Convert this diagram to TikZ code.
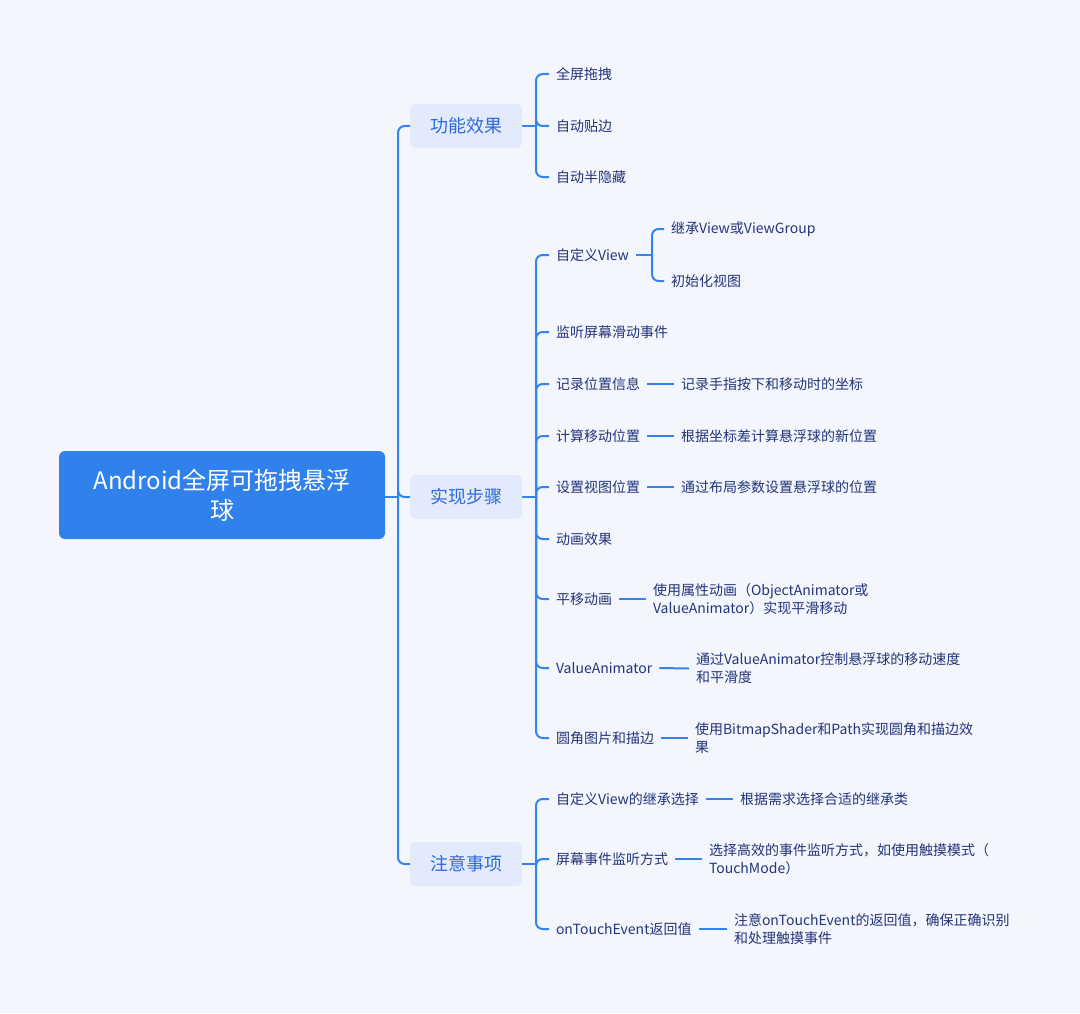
\documentclass[tikz,border=0pt]{standalone}
\usepackage{fontspec}
\setmainfont{Noto Sans CJK SC}
\definecolor{bgc}{HTML}{F4F6FD}
\definecolor{rootc}{HTML}{3181EC}
\definecolor{brfill}{HTML}{E2EAFC}
\definecolor{brtext}{HTML}{2D6BDB}
\definecolor{leafc}{HTML}{22347A}
\definecolor{linec}{HTML}{3384EE}
\tikzset{
  conn/.style={draw=linec, line width=1.5pt, rounded corners=5pt},
  leaf/.style={anchor=west, text=leafc, font=\fontsize{10.5}{13.5}\selectfont, inner xsep=5.25pt, inner ysep=2pt, outer sep=0pt, align=left},
  branch/.style={rectangle, rounded corners=4.5pt, fill=brfill, text=brtext, font=\fontsize{13.5}{16}\selectfont, minimum width=84pt, minimum height=33pt, inner sep=0pt, outer sep=0pt},
  rootbox/.style={rectangle, rounded corners=4.5pt, fill=rootc, text=white, font=\fontsize{18}{22.5}\selectfont, minimum width=244.5pt, minimum height=66pt, inner sep=0pt, outer sep=0pt, align=center}
}
\begin{document}
\begin{tikzpicture}[x=0.75pt,y=-0.75pt]
\fill[bgc] (0,0) rectangle (1080,1013);
\useasboundingbox (0,0) rectangle (1080,1013);

% root
\node[rootbox] (root) at (222,495) {Android全屏可拖拽悬浮\\球};
\coordinate (tj) at (398,497);
\draw[conn] (root.east |- tj) -- (tj);

% branches
\node[branch] (b1) at (466,126) {功能效果};
\node[branch] (b2) at (466,497) {实现步骤};
\node[branch] (b3) at (466,864) {注意事项};
\foreach \b in {b1,b2,b3} \draw[conn] (tj) |- (\b.west);

% branch 1
\coordinate (j1) at (536,126);
\draw[conn] (b1.east) -- (j1);
\node[leaf] (l11) at (549,74) {全屏拖拽};
\node[leaf] (l12) at (549,126) {自动贴边};
\node[leaf] (l13) at (549,177) {自动半隐藏};
\foreach \l in {l11,l12,l13} \draw[conn] (j1) |- (\l.west);

% branch 2
\coordinate (j2) at (536,497);
\draw[conn] (b2.east) -- (j2);
\node[leaf] (l21) at (549,255) {自定义View};
\node[leaf] (l22) at (549,332) {监听屏幕滑动事件};
\node[leaf] (l23) at (549,384) {记录位置信息};
\node[leaf] (l24) at (549,436) {计算移动位置};
\node[leaf] (l25) at (549,487) {设置视图位置};
\node[leaf] (l26) at (549,539) {动画效果};
\node[leaf] (l27) at (549,599) {平移动画};
\node[leaf] (l28) at (549,668) {ValueAnimator};
\node[leaf] (l29) at (549,738) {圆角图片和描边};
\foreach \l in {l21,l22,l23,l24,l25,l26,l27,l28,l29} \draw[conn] (j2) |- (\l.west);

% sub of 自定义View
\coordinate (j21) at (652,255);
\draw[conn] (l21.east) -- (j21);
\node[leaf] (c211) at (664,229) {继承View或ViewGroup};
\node[leaf] (c212) at (664,281) {初始化视图};
\foreach \l in {c211,c212} \draw[conn] (j21) |- (\l.west);

\node[leaf] (d23) at (674,384) {记录手指按下和移动时的坐标};
\node[leaf] (d24) at (674,436) {根据坐标差计算悬浮球的新位置};
\node[leaf] (d25) at (674,487) {通过布局参数设置悬浮球的位置};
\node[leaf] (d27) at (646,599) {使用属性动画（ObjectAnimator或\\ValueAnimator）实现平滑移动};
\node[leaf] (d28) at (689,668.5) {通过ValueAnimator控制悬浮球的移动速度\\和平滑度};
\node[leaf] (d29) at (688,738) {使用BitmapShader和Path实现圆角和描边效\\果};
\foreach \a/\b in {l23/d23,l24/d24,l25/d25,l27/d27,l28/d28,l29/d29} \draw[conn] (\a.east) -- (\b.west);

% branch 3
\coordinate (j3) at (536,864);
\draw[conn] (b3.east) -- (j3);
\node[leaf] (l31) at (549,799) {自定义View的继承选择};
\node[leaf] (l32) at (549,859) {屏幕事件监听方式};
\node[leaf] (l33) at (549,929) {onTouchEvent返回值};
\foreach \l in {l31,l32,l33} \draw[conn] (j3) |- (\l.west);

\node[leaf] (d31) at (733,799) {根据需求选择合适的继承类};
\node[leaf] (d32) at (702,859) {选择高效的事件监听方式，如使用触摸模式（\\TouchMode）};
\node[leaf] (d33) at (727,929) {注意onTouchEvent的返回值，确保正确识别\\和处理触摸事件};
\foreach \a/\b in {l31/d31,l32/d32,l33/d33} \draw[conn] (\a.east) -- (\b.west);
\end{tikzpicture}
\end{document}
